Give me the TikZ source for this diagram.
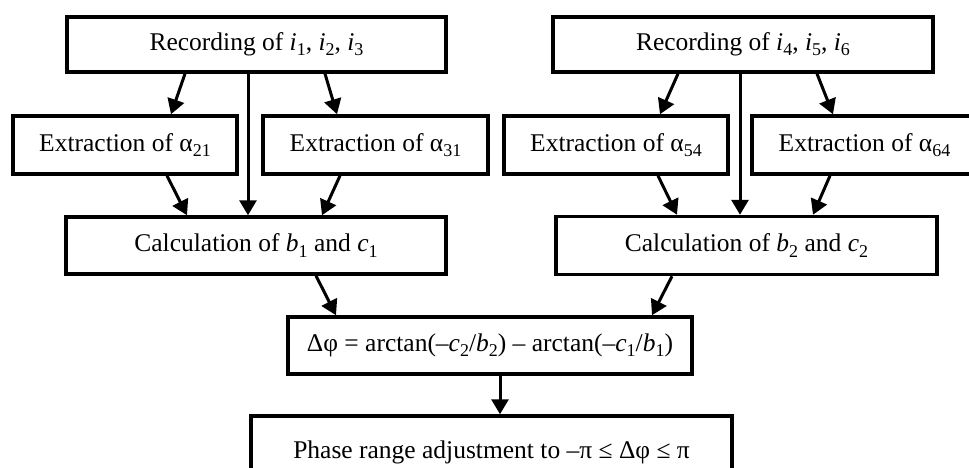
\documentclass[tikz,border=0pt]{standalone}
\usepackage{fontspec}
\setmainfont{Liberation Serif}
\usetikzlibrary{arrows.meta}
\newcommand\sbs[1]{\raisebox{-0.2em}{\fontsize{18}{18}\selectfont #1}}
\tikzset{
  box/.style={draw, line width=3.5pt, fill=white, inner sep=0pt, font=\fontsize{25.5}{30}\selectfont},
  arr/.style={line width=3pt, -{Triangle[width=17pt,length=15pt]}},
}
\begin{document}
\begin{tikzpicture}[x=1pt,y=-1pt]
\useasboundingbox (0,0) rectangle (969,468);
\clip (0,0) rectangle (969,468);
\node[box, minimum width=379, minimum height=55] (rec1) at (256.5,44.5) {Recording of \textit{i}\sbs{1}, \textit{i}\sbs{2}, \textit{i}\sbs{3}};
\node[box, minimum width=224, minimum height=58] (ex21) at (125,145) {Extraction of α\sbs{21}};
\node[box, minimum width=225, minimum height=58] (ex31) at (375.5,145) {Extraction of α\sbs{31}};
\node[box, minimum width=380, minimum height=57] (calc1) at (256,245.5) {Calculation of \textit{b}\sbs{1} and \textit{c}\sbs{1}};
\node[box, minimum width=380, minimum height=55] (rec2) at (743,44.5) {Recording of \textit{i}\sbs{4}, \textit{i}\sbs{5}, \textit{i}\sbs{6}};
\node[box, minimum width=224, minimum height=58] (ex54) at (616,145) {Extraction of α\sbs{54}};
\node[box, minimum width=225, minimum height=58] (ex64) at (864.5,145) {Extraction of α\sbs{64}};
\node[box, minimum width=381, minimum height=58] (calc2) at (746.5,245.5) {Calculation of \textit{b}\sbs{2} and \textit{c}\sbs{2}};
\node[box, minimum width=404, minimum height=57] (delta) at (490,345.5) {Δφ = arctan(–\textit{c}\sbs{2}/\textit{b}\sbs{2}) – arctan(–\textit{c}\sbs{1}/\textit{b}\sbs{1})};
\node[box, minimum width=481, minimum height=72] (phase) at (491.5,452) {Phase range adjustment to –π ≤ Δφ ≤ π};
% arrows, left group
\draw[arr] ([xshift=-71.5]rec1.south) -- ([xshift=46]ex21.north);
\draw[arr] ([xshift=-8.5]rec1.south) -- ([xshift=-8]calc1.north);
\draw[arr] ([xshift=68.5]rec1.south) -- ([xshift=-38.5]ex31.north);
\draw[arr] ([xshift=42]ex21.south) -- ([xshift=-69]calc1.north);
\draw[arr] ([xshift=-35.5]ex31.south) -- ([xshift=66]calc1.north);
% arrows, right group
\draw[arr] ([xshift=-65]rec2.south) -- ([xshift=44]ex54.north);
\draw[arr] ([xshift=-3]rec2.south) -- ([xshift=-6.5]calc2.north);
\draw[arr] ([xshift=74]rec2.south) -- ([xshift=-31.5]ex64.north);
\draw[arr] ([xshift=42]ex54.south) -- ([xshift=-69.5]calc2.north);
\draw[arr] ([xshift=-34.5]ex64.south) -- ([xshift=66.5]calc2.north);
% to delta and phase
\draw[arr] ([xshift=60]calc1.south) -- ([xshift=-154]delta.north);
\draw[arr] ([xshift=-74.5]calc2.south) -- ([xshift=162]delta.north);
\draw[arr] ([xshift=10]delta.south) -- ([xshift=8.5]phase.north);
\end{tikzpicture}
\end{document}
